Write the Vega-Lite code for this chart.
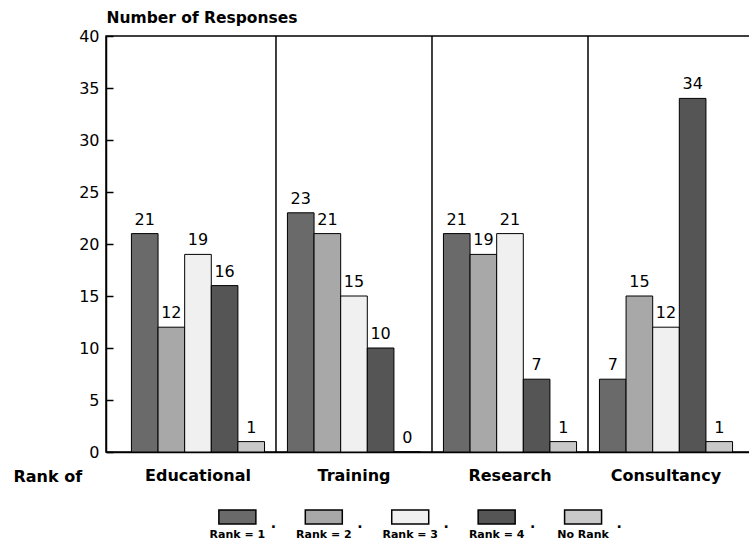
{
  "$schema": "https://vega.github.io/schema/vega-lite/v6.json",
  "padding": {"left": 12, "top": 9, "right": 0, "bottom": 0},
  "background": "white",
  "config": {
    "view": {"stroke": "black", "strokeWidth": 1.5},
    "font": "DejaVu Sans",
    "concat": {"spacing": 24}
  },
  "datasets": {
    "responses": [
      {"category": "Educational", "rank": "Rank = 1", "value": 21},
      {"category": "Educational", "rank": "Rank = 2", "value": 12},
      {"category": "Educational", "rank": "Rank = 3", "value": 19},
      {"category": "Educational", "rank": "Rank = 4", "value": 16},
      {"category": "Educational", "rank": "No Rank", "value": 1},
      {"category": "Training", "rank": "Rank = 1", "value": 23},
      {"category": "Training", "rank": "Rank = 2", "value": 21},
      {"category": "Training", "rank": "Rank = 3", "value": 15},
      {"category": "Training", "rank": "Rank = 4", "value": 10},
      {"category": "Training", "rank": "No Rank", "value": 0},
      {"category": "Research", "rank": "Rank = 1", "value": 21},
      {"category": "Research", "rank": "Rank = 2", "value": 19},
      {"category": "Research", "rank": "Rank = 3", "value": 21},
      {"category": "Research", "rank": "Rank = 4", "value": 7},
      {"category": "Research", "rank": "No Rank", "value": 1},
      {"category": "Consultancy", "rank": "Rank = 1", "value": 7},
      {"category": "Consultancy", "rank": "Rank = 2", "value": 15},
      {"category": "Consultancy", "rank": "Rank = 3", "value": 12},
      {"category": "Consultancy", "rank": "Rank = 4", "value": 34},
      {"category": "Consultancy", "rank": "No Rank", "value": 1}
    ],
    "ranks": [
      {"rank": "Rank = 1"}, {"rank": "Rank = 2"}, {"rank": "Rank = 3"}, {"rank": "Rank = 4"}, {"rank": "No Rank"}
    ],
    "panels": [
      {"category": "Training"}, {"category": "Research"}, {"category": "Consultancy"}
    ]
  },
  "vconcat": [
    {
      "width": 644,
      "height": 416,
      "layer": [
        {
          "data": {"name": "responses"},
          "mark": {"type": "bar", "stroke": "black", "strokeWidth": 1},
          "encoding": {
            "x": {
              "field": "category", "type": "nominal",
              "scale": {"domain": ["Educational", "Training", "Research", "Consultancy"], "paddingInner": 0, "paddingOuter": 0.064, "align": 0.7},
              "axis": {
                "title": "Rank of", "titleX": -93, "titleY": 24, "titleAlign": "left", "titleBaseline": "middle",
                "titleFontSize": 16, "titleFontWeight": "bold", "titleColor": "black",
                "labelAngle": 0, "labelFontSize": 16, "labelFontWeight": "bold", "labelColor": "black", "labelPadding": 15,
                "ticks": false, "domainColor": "black", "domainWidth": 1.5
              }
            },
            "xOffset": {
              "field": "rank", "type": "nominal",
              "scale": {"domain": ["Rank = 1", "Rank = 2", "Rank = 3", "Rank = 4", "No Rank"], "paddingInner": 0, "paddingOuter": 0.43}
            },
            "y": {
              "field": "value", "type": "quantitative",
              "scale": {"domain": [0, 40], "nice": false},
              "axis": {
                "title": "Number of Responses", "titleAngle": 0, "titleX": 0, "titleY": -19, "titleAlign": "left", "titleBaseline": "middle",
                "titleFontSize": 15.5, "titleFontWeight": "bold", "titleColor": "black",
                "values": [0, 5, 10, 15, 20, 25, 30, 35, 40],
                "tickSize": -7, "labelPadding": 14, "labelFontSize": 16, "labelColor": "black",
                "tickColor": "black", "tickWidth": 1.5, "domainColor": "black", "domainWidth": 1.5, "grid": false
              }
            },
            "fill": {
              "field": "rank", "type": "nominal",
              "scale": {"domain": ["Rank = 1", "Rank = 2", "Rank = 3", "Rank = 4", "No Rank"], "range": ["#6a6a6a", "#a8a8a8", "#f0f0f0", "#555555", "#c8c8c8"]},
              "legend": null
            }
          }
        },
        {
          "data": {"name": "responses"},
          "mark": {"type": "text", "baseline": "bottom", "dy": -6, "fontSize": 16, "color": "black"},
          "encoding": {
            "x": {"field": "category", "type": "nominal"},
            "xOffset": {"field": "rank", "type": "nominal"},
            "y": {"field": "value", "type": "quantitative"},
            "text": {"field": "value", "type": "quantitative"}
          }
        },
        {
          "data": {"name": "panels"},
          "mark": {"type": "rule", "color": "black", "strokeWidth": 1.5},
          "encoding": {
            "x": {"field": "category", "type": "nominal", "bandPosition": 0}
          }
        }
      ]
    },
    {
      "width": 605,
      "height": 14,
      "view": {"stroke": null},
      "data": {"name": "ranks"},
      "encoding": {
        "x": {
          "field": "rank", "type": "nominal",
          "scale": {"domain": ["Rank = 1", "Rank = 2", "Rank = 3", "Rank = 4", "No Rank"], "paddingInner": 0, "paddingOuter": 1, "align": 0.51},
          "axis": {"title": null, "ticks": false, "domain": false, "labelAngle": 0, "labelFontSize": 11, "labelFontWeight": "bold", "labelColor": "black", "labelPadding": 4}
        }
      },
      "layer": [
        {
          "mark": {"type": "bar", "width": 37, "stroke": "black", "strokeWidth": 1.5},
          "encoding": {
            "fill": {
              "field": "rank", "type": "nominal",
              "scale": {"domain": ["Rank = 1", "Rank = 2", "Rank = 3", "Rank = 4", "No Rank"], "range": ["#6a6a6a", "#a8a8a8", "#f0f0f0", "#555555", "#c8c8c8"]},
              "legend": null
            }
          }
        },
        {
          "mark": {"type": "text", "text": ".", "dx": 36, "dy": 7, "fontSize": 14, "fontWeight": "bold", "color": "black"},
          "encoding": {}
        }
      ]
    }
  ]
}
